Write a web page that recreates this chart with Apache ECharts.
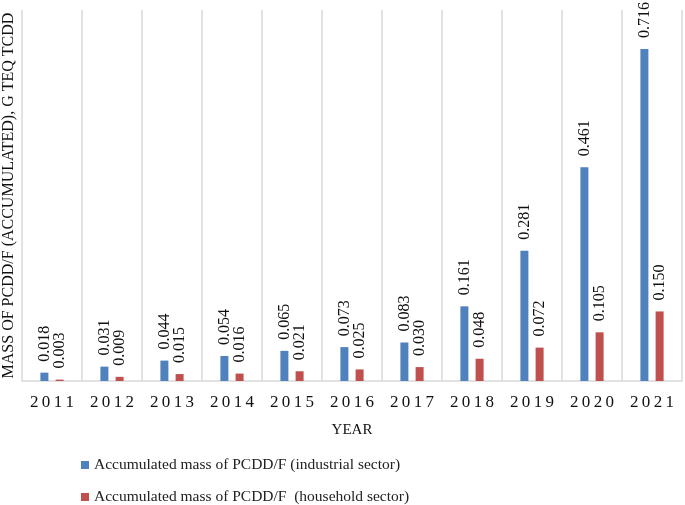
<!DOCTYPE html>
<html><head><meta charset="utf-8">
<script src="https://cdn.jsdelivr.net/npm/echarts@6/dist/echarts.min.js"></script>
<style>html,body{margin:0;padding:0;background:#fff}#c{width:685px;height:505px}</style>
</head><body><div id="c"></div>
<script>
var years = ['2011','2012','2013','2014','2015','2016','2017','2018','2019','2020','2021'];
var industrial = [0.018,0.031,0.044,0.054,0.065,0.073,0.083,0.161,0.281,0.461,0.716];
var household = [0.003,0.009,0.015,0.016,0.021,0.025,0.030,0.048,0.072,0.105,0.150];
var seriesNames = ['Accumulated mass of PCDD/F (industrial sector)','Accumulated mass of PCDD/F  (household sector)'];
var serif = '"Liberation Serif","DejaVu Serif",serif';
var chart = echarts.init(document.getElementById('c'));
var lbl = {show:true,position:'top',rotate:90,align:'left',verticalAlign:'middle',distance:11,
  fontFamily:serif,fontSize:16,color:'#111',formatter:function(p){return p.value.toFixed(3);}};
var legendBase = {orient:'vertical',left:76,itemWidth:8,itemHeight:8,icon:'rect',itemGap:5,
    textStyle:{fontFamily:serif,fontSize:15.5,color:'#222'}};
chart.setOption({
  animation:false,
  grid:{left:22,right:3,top:10,bottom:124,outerBoundsMode:'none',containLabel:false},
  legend:[
    Object.assign({},legendBase,{top:452,data:[seriesNames[0]]}),
    Object.assign({},legendBase,{top:484,data:[seriesNames[1]]})
  ],
  xAxis:{type:'category',data:years,name:'YEAR',nameLocation:'middle',nameGap:42,
    nameTextStyle:{fontFamily:serif,fontSize:15,color:'#111'},
    axisLine:{lineStyle:{color:'#d9d9d9',width:1.5}},axisTick:{show:false},
    axisLabel:{fontFamily:serif,fontSize:17,color:'#111',margin:13,
      formatter:function(v){return v.split('').join('\u2009');}},
    splitLine:{show:true,lineStyle:{color:'#d9d9d9',width:1.5}}},
  yAxis:{type:'value',min:0,max:0.8,name:'MASS OF PCDD/F (ACCUMULATED), G TEQ TCDD',
    nameLocation:'middle',nameGap:5,nameTextStyle:{fontFamily:serif,fontSize:16,color:'#111'},
    axisLabel:{show:false},axisLine:{show:false},axisTick:{show:false},splitLine:{show:false}},
  series:[
    {name:seriesNames[0],type:'bar',data:industrial,barWidth:8,barGap:'90%',itemStyle:{color:'#4f81bd'},label:lbl},
    {name:seriesNames[1],type:'bar',data:household,barWidth:8,barGap:'90%',itemStyle:{color:'#c0504d'},label:lbl}
  ]
});
</script></body></html>
